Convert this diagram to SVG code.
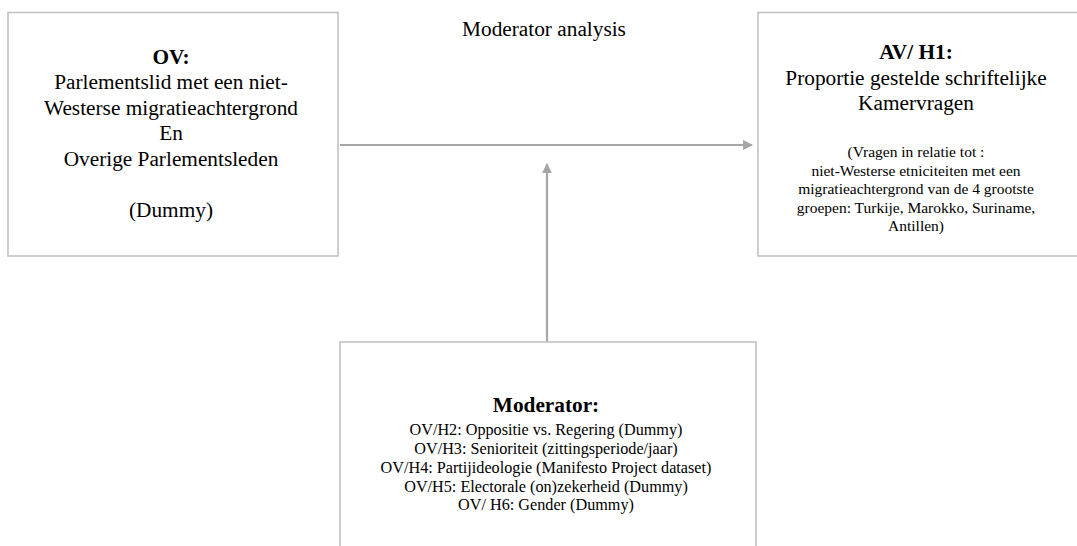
<svg xmlns="http://www.w3.org/2000/svg" width="1077" height="546" viewBox="0 0 1077 546">
<style>
.box{fill:#ffffff;stroke:#bfbfbf;stroke-width:1.5}
.t{font-family:"Liberation Serif","Times New Roman",serif;fill:#000;text-anchor:middle}
.big{font-size:21.3px}
.b{font-weight:bold}
.sm{font-size:15.5px}
.md{font-size:16.2px}
.conn{stroke:#a6a6a6;stroke-width:2.2;fill:none}
</style>
<defs>
<marker id="arr" viewBox="0 0 10 10" refX="9" refY="5" markerWidth="4.5" markerHeight="4.5" orient="auto" markerUnits="strokeWidth">
<path d="M0,0 L10,5 L0,10 z" fill="#a6a6a6"/>
</marker>
</defs>
<rect width="1077" height="546" fill="#ffffff"/>
<text class="t big" x="544" y="36">Moderator analysis</text>
<g id="connectors">
<line class="conn" x1="340" y1="145" x2="752" y2="145" marker-end="url(#arr)"/>
<line class="conn" x1="547" y1="342" x2="547" y2="164" marker-end="url(#arr)"/>
</g>
<g id="node-ov">
<rect class="box" x="8" y="12.5" width="330" height="243.5"/>
<text class="t big b" x="171" y="63.5">OV:</text>
<text class="t big" x="171" y="89">Parlementslid met een niet-</text>
<text class="t big" x="171" y="114.5">Westerse migratieachtergrond</text>
<text class="t big" x="171" y="140">En</text>
<text class="t big" x="171" y="165.5">Overige Parlementsleden</text>
<text class="t big" x="171" y="216.5">(Dummy)</text>
</g>
<g id="node-av">
<rect class="box" x="758" y="12.5" width="330" height="243.5"/>
<text class="t big b" x="916" y="59">AV/ H1:</text>
<text class="t big" x="916" y="85">Proportie gestelde schriftelijke</text>
<text class="t big" x="916" y="110">Kamervragen</text>
<text class="t sm" x="916" y="157">(Vragen in relatie tot :</text>
<text class="t sm" x="916" y="175.5">niet-Westerse etniciteiten met een</text>
<text class="t sm" x="916" y="194">migratieachtergrond van de 4 grootste</text>
<text class="t sm" x="916" y="212.5">groepen: Turkije, Marokko, Suriname,</text>
<text class="t sm" x="916" y="231">Antillen)</text>
</g>
<g id="node-moderator">
<rect class="box" x="340" y="342" width="416" height="220"/>
<text class="t big b" x="546" y="412">Moderator:</text>
<text class="t md" x="546" y="435">OV/H2: Oppositie vs. Regering (Dummy)</text>
<text class="t md" x="546" y="454">OV/H3: Senioriteit (zittingsperiode/jaar)</text>
<text class="t md" x="546" y="473">OV/H4: Partijideologie (Manifesto Project dataset)</text>
<text class="t md" x="546" y="491.5">OV/H5: Electorale (on)zekerheid (Dummy)</text>
<text class="t md" x="546" y="510">OV/ H6: Gender (Dummy)</text>
</g>
</svg>
